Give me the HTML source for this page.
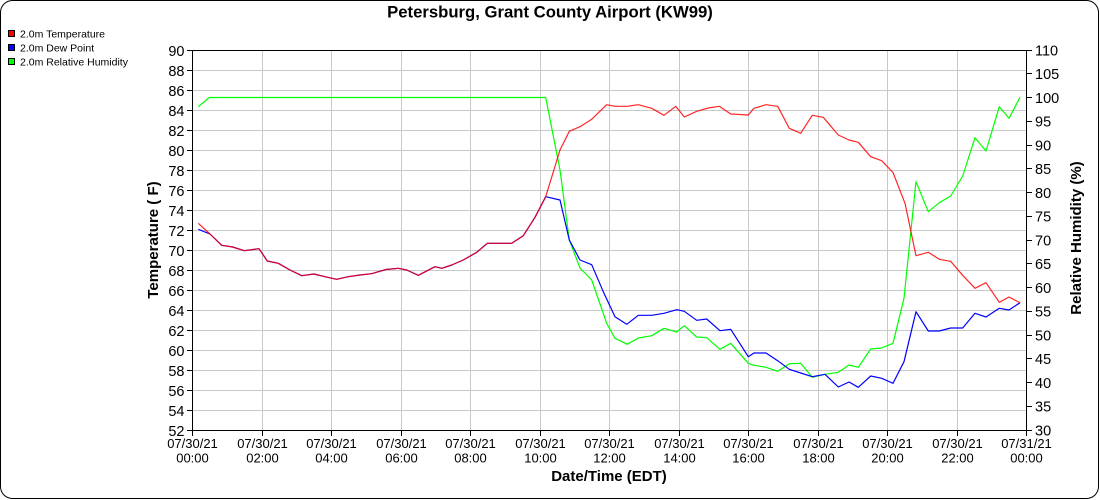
<!DOCTYPE html>
<html>
<head>
<meta charset="utf-8">
<style>
  html,body{margin:0;padding:0;background:#fff;}
  svg{display:block;}
  text{font-family:"Liberation Sans", Arial, sans-serif;fill:#000;}
</style>
</head>
<body>
<svg width="1100" height="500" viewBox="0 0 1100 500" xmlns="http://www.w3.org/2000/svg">
  <!-- outer border -->
  <rect x="0.5" y="0.5" width="1098" height="498" rx="12" ry="12" fill="#fff" stroke="#000" stroke-width="1"/>

  <!-- title -->
  <text x="550" y="17.5" text-anchor="middle" font-size="16.7" font-weight="bold">Petersburg, Grant County Airport (KW99)</text>

  <!-- legend -->
  <rect x="8.5" y="30.5" width="6" height="6" fill="#ff0000" stroke="#000" stroke-width="1"/>
  <text x="20" y="37.5" font-size="10.5">2.0m Temperature</text>
  <rect x="8.5" y="44.5" width="6" height="6" fill="#0000ff" stroke="#000" stroke-width="1"/>
  <text x="20" y="51.5" font-size="10.5">2.0m Dew Point</text>
  <rect x="8.5" y="58.5" width="6" height="6" fill="#00ff00" stroke="#000" stroke-width="1"/>
  <text x="20" y="65.3" font-size="10.5">2.0m Relative Humidity</text>

  <!-- gridlines -->
  <g stroke="#c8c8c8" stroke-width="1" shape-rendering="crispEdges">
    <line x1="192" y1="70.5" x2="1026" y2="70.5"/>
    <line x1="192" y1="90.5" x2="1026" y2="90.5"/>
    <line x1="192" y1="110.5" x2="1026" y2="110.5"/>
    <line x1="192" y1="130.5" x2="1026" y2="130.5"/>
    <line x1="192" y1="150.5" x2="1026" y2="150.5"/>
    <line x1="192" y1="170.5" x2="1026" y2="170.5"/>
    <line x1="192" y1="190.5" x2="1026" y2="190.5"/>
    <line x1="192" y1="210.5" x2="1026" y2="210.5"/>
    <line x1="192" y1="230.5" x2="1026" y2="230.5"/>
    <line x1="192" y1="250.5" x2="1026" y2="250.5"/>
    <line x1="192" y1="270.5" x2="1026" y2="270.5"/>
    <line x1="192" y1="290.5" x2="1026" y2="290.5"/>
    <line x1="192" y1="310.5" x2="1026" y2="310.5"/>
    <line x1="192" y1="330.5" x2="1026" y2="330.5"/>
    <line x1="192" y1="350.5" x2="1026" y2="350.5"/>
    <line x1="192" y1="370.5" x2="1026" y2="370.5"/>
    <line x1="192" y1="390.5" x2="1026" y2="390.5"/>
    <line x1="192" y1="410.5" x2="1026" y2="410.5"/>
    <line x1="262.5" y1="50" x2="262.5" y2="430"/>
    <line x1="331.5" y1="50" x2="331.5" y2="430"/>
    <line x1="401.5" y1="50" x2="401.5" y2="430"/>
    <line x1="470.5" y1="50" x2="470.5" y2="430"/>
    <line x1="540.5" y1="50" x2="540.5" y2="430"/>
    <line x1="609.5" y1="50" x2="609.5" y2="430"/>
    <line x1="679.5" y1="50" x2="679.5" y2="430"/>
    <line x1="748.5" y1="50" x2="748.5" y2="430"/>
    <line x1="818.5" y1="50" x2="818.5" y2="430"/>
    <line x1="887.5" y1="50" x2="887.5" y2="430"/>
    <line x1="957.5" y1="50" x2="957.5" y2="430"/>
  </g>

  <!-- series -->
  <g fill="none" stroke-width="1.2" stroke-linejoin="round">
    <polyline stroke="#00ff00" points="198.3,106.7 209.3,97.5 545.7,97.5 560,170 569.3,240 580,268 591.7,280 606.7,323.3 615,338.3 627.3,344.3 638.3,338 651.7,335.7 664,328.3 676.7,332 684.3,325.7 696.7,337 706.7,337.7 720,349.3 730.7,343.3 748.3,363.3 754,365.3 766,367.3 777.7,371.3 789.3,363.7 800.7,363.3 812.3,377.3 825,374.3 838.3,372.3 849,365 858.3,367.3 870.7,349 881.7,348 893,343.3 904,298.3 916,181.7 928.3,211.7 939.3,202.7 950.7,196 962.7,176 975,137.7 986,151 999.3,106.7 1009,118.3 1020,97.3"/>
    <polyline stroke="#0000ff" points="198.3,229.3 210,234 221.7,245.3 232.7,247 244.3,250.7 259,248.7 267.3,261 278.3,263.3 290,270 301.7,275.7 314,274 325,276.7 336.7,279.3 348.3,276.7 360,275 371.7,273.7 386,269.5 398.3,268.3 406.7,270 418.3,275.3 435,266.7 441.7,268.3 451.7,265 463.3,260 476.7,252.3 487.3,243.3 511.7,243.3 523.3,235.7 535,217.3 545.7,196.7 560,200 569.3,240 580,260 591.7,264.7 603.3,291.7 615,316.7 626.7,324.3 638.3,315.3 651.7,315.3 664,313.3 676.7,309.7 684.3,311.3 696.7,320.3 706.7,319 720,330.7 730.7,329.3 748.3,356.7 754,353 766,353 777.7,360.7 789.3,369.3 800.7,373 812.3,376.7 825,374.3 838.3,387 849,382 858.3,387.3 870.7,376 881.7,378.3 893,383.3 904,361.7 916,311.7 928.3,331 939.3,331 950.7,328 962.7,328 975,313.3 986,317 999.3,308.3 1009,310 1020,302.7"/>
    <polyline stroke="#ff0000" stroke-opacity="0.85" points="198.3,223.3 210,234 221.7,245.3 232.7,247 244.3,250.7 259,248.7 267.3,261 278.3,263.3 290,270 301.7,275.7 314,274 325,276.7 336.7,279.3 348.3,276.7 360,275 371.7,273.7 386,269.5 398.3,268.3 406.7,270 418.3,275.3 435,266.7 441.7,268.3 451.7,265 463.3,260 476.7,252.3 487.3,243.3 511.7,243.3 523.3,235.7 535,217.3 545.7,196.7 560,150 569.3,131.3 580,126.7 591.7,119.3 606.7,104.7 615,106.3 627.3,106.3 638.3,104.7 651.7,108.3 664,115.3 675.7,106.3 684.3,117 696.7,111.3 708.3,108 719.3,106.3 730.7,114 748.3,115 754,108.3 766,104.7 777.7,106.3 789.3,128.3 800.7,133.3 812.3,115.3 823.3,117.3 838.3,135 849,140 858.3,142.3 870.7,156.7 881.7,160.7 893,172.5 905,203.3 916,255.7 928.3,252.3 939.3,259.3 950.7,261.3 962.7,275.3 975,288.3 986,282.7 999.3,302.3 1009,297 1020,302.7"/>
  </g>

  <!-- plot frame -->
  <rect x="192.5" y="50.5" width="834" height="380" fill="none" stroke="#000" stroke-width="1" shape-rendering="crispEdges"/>

  <!-- ticks -->
  <g stroke="#000" stroke-width="1" shape-rendering="crispEdges">
    <!-- left -->
    <line x1="187" y1="50.5" x2="192" y2="50.5"/>
    <line x1="187" y1="70.5" x2="192" y2="70.5"/>
    <line x1="187" y1="90.5" x2="192" y2="90.5"/>
    <line x1="187" y1="110.5" x2="192" y2="110.5"/>
    <line x1="187" y1="130.5" x2="192" y2="130.5"/>
    <line x1="187" y1="150.5" x2="192" y2="150.5"/>
    <line x1="187" y1="170.5" x2="192" y2="170.5"/>
    <line x1="187" y1="190.5" x2="192" y2="190.5"/>
    <line x1="187" y1="210.5" x2="192" y2="210.5"/>
    <line x1="187" y1="230.5" x2="192" y2="230.5"/>
    <line x1="187" y1="250.5" x2="192" y2="250.5"/>
    <line x1="187" y1="270.5" x2="192" y2="270.5"/>
    <line x1="187" y1="290.5" x2="192" y2="290.5"/>
    <line x1="187" y1="310.5" x2="192" y2="310.5"/>
    <line x1="187" y1="330.5" x2="192" y2="330.5"/>
    <line x1="187" y1="350.5" x2="192" y2="350.5"/>
    <line x1="187" y1="370.5" x2="192" y2="370.5"/>
    <line x1="187" y1="390.5" x2="192" y2="390.5"/>
    <line x1="187" y1="410.5" x2="192" y2="410.5"/>
    <line x1="187" y1="430.5" x2="192" y2="430.5"/>
    <!-- right -->
    <line x1="1027" y1="50.5" x2="1032" y2="50.5"/>
    <line x1="1027" y1="73.5" x2="1032" y2="73.5"/>
    <line x1="1027" y1="97.5" x2="1032" y2="97.5"/>
    <line x1="1027" y1="121.5" x2="1032" y2="121.5"/>
    <line x1="1027" y1="145.5" x2="1032" y2="145.5"/>
    <line x1="1027" y1="168.5" x2="1032" y2="168.5"/>
    <line x1="1027" y1="192.5" x2="1032" y2="192.5"/>
    <line x1="1027" y1="216.5" x2="1032" y2="216.5"/>
    <line x1="1027" y1="240.5" x2="1032" y2="240.5"/>
    <line x1="1027" y1="263.5" x2="1032" y2="263.5"/>
    <line x1="1027" y1="287.5" x2="1032" y2="287.5"/>
    <line x1="1027" y1="311.5" x2="1032" y2="311.5"/>
    <line x1="1027" y1="335.5" x2="1032" y2="335.5"/>
    <line x1="1027" y1="358.5" x2="1032" y2="358.5"/>
    <line x1="1027" y1="382.5" x2="1032" y2="382.5"/>
    <line x1="1027" y1="406.5" x2="1032" y2="406.5"/>
    <line x1="1027" y1="430.5" x2="1032" y2="430.5"/>
    <!-- bottom -->
    <line x1="192.5" y1="431" x2="192.5" y2="436"/>
    <line x1="262.5" y1="431" x2="262.5" y2="436"/>
    <line x1="331.5" y1="431" x2="331.5" y2="436"/>
    <line x1="401.5" y1="431" x2="401.5" y2="436"/>
    <line x1="470.5" y1="431" x2="470.5" y2="436"/>
    <line x1="540.5" y1="431" x2="540.5" y2="436"/>
    <line x1="609.5" y1="431" x2="609.5" y2="436"/>
    <line x1="679.5" y1="431" x2="679.5" y2="436"/>
    <line x1="748.5" y1="431" x2="748.5" y2="436"/>
    <line x1="818.5" y1="431" x2="818.5" y2="436"/>
    <line x1="887.5" y1="431" x2="887.5" y2="436"/>
    <line x1="957.5" y1="431" x2="957.5" y2="436"/>
    <line x1="1026.5" y1="431" x2="1026.5" y2="436"/>
  </g>

  <!-- left tick labels -->
  <g font-size="14.5" text-anchor="end">
    <text x="184.5" y="56">90</text>
    <text x="184.5" y="76">88</text>
    <text x="184.5" y="96">86</text>
    <text x="184.5" y="116">84</text>
    <text x="184.5" y="136">82</text>
    <text x="184.5" y="156">80</text>
    <text x="184.5" y="176">78</text>
    <text x="184.5" y="196">76</text>
    <text x="184.5" y="216">74</text>
    <text x="184.5" y="236">72</text>
    <text x="184.5" y="256">70</text>
    <text x="184.5" y="276">68</text>
    <text x="184.5" y="296">66</text>
    <text x="184.5" y="316">64</text>
    <text x="184.5" y="336">62</text>
    <text x="184.5" y="356">60</text>
    <text x="184.5" y="376">58</text>
    <text x="184.5" y="396">56</text>
    <text x="184.5" y="416">54</text>
    <text x="184.5" y="436">52</text>
  </g>

  <!-- right tick labels -->
  <g font-size="14.5" text-anchor="start">
    <text x="1035" y="55.5">110</text>
    <text x="1035" y="79">105</text>
    <text x="1035" y="103">100</text>
    <text x="1035" y="126.5">95</text>
    <text x="1035" y="150.5">90</text>
    <text x="1035" y="174">85</text>
    <text x="1035" y="198">80</text>
    <text x="1035" y="221.5">75</text>
    <text x="1035" y="245.5">70</text>
    <text x="1035" y="269">65</text>
    <text x="1035" y="293">60</text>
    <text x="1035" y="316.5">55</text>
    <text x="1035" y="340.5">50</text>
    <text x="1035" y="364">45</text>
    <text x="1035" y="388">40</text>
    <text x="1035" y="411.5">35</text>
    <text x="1035" y="435.5">30</text>
  </g>

  <!-- x tick labels -->
  <g font-size="13" text-anchor="middle">
    <text x="192.5" y="448">07/30/21</text><text x="192.5" y="462.5">00:00</text>
    <text x="262.5" y="448">07/30/21</text><text x="262.5" y="462.5">02:00</text>
    <text x="331.5" y="448">07/30/21</text><text x="331.5" y="462.5">04:00</text>
    <text x="401.5" y="448">07/30/21</text><text x="401.5" y="462.5">06:00</text>
    <text x="470.5" y="448">07/30/21</text><text x="470.5" y="462.5">08:00</text>
    <text x="540.5" y="448">07/30/21</text><text x="540.5" y="462.5">10:00</text>
    <text x="609.5" y="448">07/30/21</text><text x="609.5" y="462.5">12:00</text>
    <text x="679.5" y="448">07/30/21</text><text x="679.5" y="462.5">14:00</text>
    <text x="748.5" y="448">07/30/21</text><text x="748.5" y="462.5">16:00</text>
    <text x="818.5" y="448">07/30/21</text><text x="818.5" y="462.5">18:00</text>
    <text x="887.5" y="448">07/30/21</text><text x="887.5" y="462.5">20:00</text>
    <text x="957.5" y="448">07/30/21</text><text x="957.5" y="462.5">22:00</text>
    <text x="1026.5" y="448">07/31/21</text><text x="1026.5" y="462.5">00:00</text>
  </g>

  <!-- axis titles -->
  <text x="609" y="481" text-anchor="middle" font-size="15" font-weight="bold">Date/Time (EDT)</text>
  <text transform="translate(158,240) rotate(-90)" text-anchor="middle" font-size="15" font-weight="bold">Temperature ( F)</text>
  <text transform="translate(1081,238) rotate(-90)" text-anchor="middle" font-size="15" font-weight="bold">Relative Humidity (%)</text>
</svg>
</body>
</html>
